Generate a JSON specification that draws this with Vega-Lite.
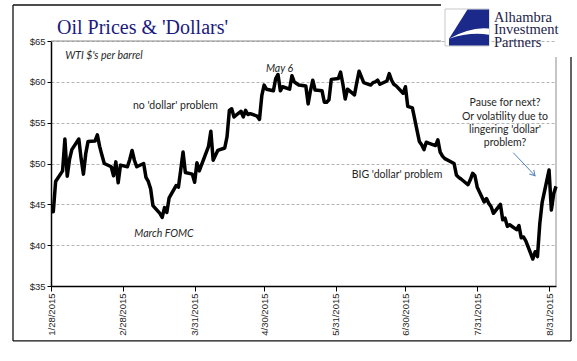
{
  "$schema": "https://vega.github.io/schema/vega-lite/v6.json",
  "width": 505,
  "height": 245,
  "autosize": {"type": "none"},
  "padding": {"left": 51, "top": 41, "right": 21, "bottom": 75},
  "background": "white",
  "config": {
    "view": {"stroke": null},
    "axis": {
      "labelFont": "Liberation Sans",
      "labelFontSize": 9.5,
      "labelColor": "#262626",
      "domainColor": "#000000",
      "domainWidth": 1.5,
      "tickColor": "#000000",
      "tickWidth": 1,
      "title": null
    }
  },
  "layer": [
    {
      "data": {"values": [{}]},
      "mark": {"type": "rule", "stroke": "#111111", "strokeWidth": 1.3, "clip": false},
      "encoding": {
        "x": {"datum": 1420985900000, "type": "temporal"},
        "x2": {"datum": 1436949200000},
        "y": {"datum": 69.41, "type": "quantitative"}
      }
    },
    {
      "data": {"values": [{}]},
      "mark": {"type": "rule", "stroke": "#111111", "strokeWidth": 1.3, "clip": false},
      "encoding": {
        "x": {"datum": 1420985900000, "type": "temporal"},
        "x2": {"datum": 1441797900000},
        "y": {"datum": 28.27, "type": "quantitative"}
      }
    },
    {
      "data": {"values": [{}]},
      "mark": {"type": "rule", "stroke": "#111111", "strokeWidth": 1.3, "clip": false},
      "encoding": {
        "x": {"datum": 1420985900000, "type": "temporal"},
        "y": {"datum": 28.27, "type": "quantitative"},
        "y2": {"datum": 69.41}
      }
    },
    {
      "data": {"values": [{}]},
      "mark": {"type": "rule", "stroke": "#111111", "strokeWidth": 1.3, "clip": false},
      "encoding": {
        "x": {"datum": 1441797900000, "type": "temporal"},
        "y": {"datum": 28.27, "type": "quantitative"},
        "y2": {"datum": 63.04}
      }
    },
    {
      "data": {"values": [{}]},
      "mark": {"type": "rule", "stroke": "#8c8c8c", "strokeWidth": 1},
      "encoding": {
        "x": {"datum": 1422403200000, "type": "temporal"},
        "x2": {"datum": 1436949200000},
        "y": {"datum": 65, "type": "quantitative"}
      }
    },
    {
      "data": {"values": [{}]},
      "mark": {"type": "rule", "stroke": "#8c8c8c", "strokeWidth": 1},
      "encoding": {
        "x": {"datum": 1441238400000, "type": "temporal"},
        "y": {"datum": 35, "type": "quantitative"},
        "y2": {"datum": 63.04}
      }
    },
    {
      "data": {
        "values": [
          {"date": "2015-01-28", "price": 44.1},
          {"date": "2015-01-29", "price": 44.1},
          {"date": "2015-01-30", "price": 47.8},
          {"date": "2015-02-02", "price": 49.1},
          {"date": "2015-02-03", "price": 53.0},
          {"date": "2015-02-04", "price": 48.45},
          {"date": "2015-02-05", "price": 50.5},
          {"date": "2015-02-06", "price": 51.7},
          {"date": "2015-02-09", "price": 53.0},
          {"date": "2015-02-10", "price": 50.6},
          {"date": "2015-02-11", "price": 48.7},
          {"date": "2015-02-12", "price": 51.2},
          {"date": "2015-02-13", "price": 52.7},
          {"date": "2015-02-16", "price": 52.75},
          {"date": "2015-02-17", "price": 53.5},
          {"date": "2015-02-18", "price": 52.1},
          {"date": "2015-02-19", "price": 51.0},
          {"date": "2015-02-20", "price": 50.0},
          {"date": "2015-02-23", "price": 49.6},
          {"date": "2015-02-24", "price": 48.5},
          {"date": "2015-02-25", "price": 50.2},
          {"date": "2015-02-26", "price": 47.65},
          {"date": "2015-02-27", "price": 49.8},
          {"date": "2015-03-02", "price": 49.6},
          {"date": "2015-03-03", "price": 50.5},
          {"date": "2015-03-04", "price": 51.6},
          {"date": "2015-03-05", "price": 50.4},
          {"date": "2015-03-06", "price": 49.6},
          {"date": "2015-03-09", "price": 50.0},
          {"date": "2015-03-10", "price": 48.3},
          {"date": "2015-03-11", "price": 47.8},
          {"date": "2015-03-12", "price": 46.9},
          {"date": "2015-03-13", "price": 44.85},
          {"date": "2015-03-16", "price": 43.9},
          {"date": "2015-03-17", "price": 43.4},
          {"date": "2015-03-18", "price": 44.6},
          {"date": "2015-03-19", "price": 44.0},
          {"date": "2015-03-20", "price": 45.8},
          {"date": "2015-03-23", "price": 47.3},
          {"date": "2015-03-24", "price": 47.1},
          {"date": "2015-03-25", "price": 49.2},
          {"date": "2015-03-26", "price": 51.4},
          {"date": "2015-03-27", "price": 48.9},
          {"date": "2015-03-30", "price": 48.7},
          {"date": "2015-03-31", "price": 47.7},
          {"date": "2015-04-01", "price": 50.1},
          {"date": "2015-04-02", "price": 49.1},
          {"date": "2015-04-06", "price": 52.1},
          {"date": "2015-04-07", "price": 53.95},
          {"date": "2015-04-08", "price": 50.4},
          {"date": "2015-04-09", "price": 51.0},
          {"date": "2015-04-10", "price": 51.6},
          {"date": "2015-04-13", "price": 51.9},
          {"date": "2015-04-14", "price": 53.3},
          {"date": "2015-04-15", "price": 56.5},
          {"date": "2015-04-16", "price": 56.7},
          {"date": "2015-04-17", "price": 55.7},
          {"date": "2015-04-20", "price": 56.4},
          {"date": "2015-04-21", "price": 55.7},
          {"date": "2015-04-22", "price": 56.5},
          {"date": "2015-04-23", "price": 56.0},
          {"date": "2015-04-24", "price": 56.1},
          {"date": "2015-04-27", "price": 55.8},
          {"date": "2015-04-28", "price": 55.4},
          {"date": "2015-04-29", "price": 58.3},
          {"date": "2015-04-30", "price": 59.6},
          {"date": "2015-05-01", "price": 59.1},
          {"date": "2015-05-04", "price": 58.9},
          {"date": "2015-05-05", "price": 60.4},
          {"date": "2015-05-06", "price": 60.9},
          {"date": "2015-05-07", "price": 58.9},
          {"date": "2015-05-08", "price": 59.4},
          {"date": "2015-05-11", "price": 59.1},
          {"date": "2015-05-12", "price": 60.75},
          {"date": "2015-05-13", "price": 60.0},
          {"date": "2015-05-14", "price": 59.8},
          {"date": "2015-05-15", "price": 59.6},
          {"date": "2015-05-18", "price": 59.5},
          {"date": "2015-05-19", "price": 57.3},
          {"date": "2015-05-20", "price": 58.9},
          {"date": "2015-05-21", "price": 60.2},
          {"date": "2015-05-22", "price": 59.0},
          {"date": "2015-05-25", "price": 58.9},
          {"date": "2015-05-26", "price": 57.5},
          {"date": "2015-05-27", "price": 57.5},
          {"date": "2015-05-28", "price": 57.8},
          {"date": "2015-05-29", "price": 60.3},
          {"date": "2015-06-01", "price": 60.4},
          {"date": "2015-06-02", "price": 61.2},
          {"date": "2015-06-03", "price": 59.7},
          {"date": "2015-06-04", "price": 57.9},
          {"date": "2015-06-05", "price": 59.1},
          {"date": "2015-06-08", "price": 58.4},
          {"date": "2015-06-09", "price": 59.9},
          {"date": "2015-06-10", "price": 61.3},
          {"date": "2015-06-11", "price": 60.6},
          {"date": "2015-06-12", "price": 59.9},
          {"date": "2015-06-15", "price": 59.6},
          {"date": "2015-06-16", "price": 59.9},
          {"date": "2015-06-17", "price": 60.0},
          {"date": "2015-06-18", "price": 60.2},
          {"date": "2015-06-19", "price": 59.7},
          {"date": "2015-06-22", "price": 60.1},
          {"date": "2015-06-23", "price": 61.0},
          {"date": "2015-06-24", "price": 60.2},
          {"date": "2015-06-25", "price": 59.7},
          {"date": "2015-06-26", "price": 59.5},
          {"date": "2015-06-29", "price": 58.6},
          {"date": "2015-06-30", "price": 59.4},
          {"date": "2015-07-01", "price": 57.0},
          {"date": "2015-07-02", "price": 56.9},
          {"date": "2015-07-03", "price": 56.8},
          {"date": "2015-07-06", "price": 52.7},
          {"date": "2015-07-07", "price": 52.3},
          {"date": "2015-07-08", "price": 51.7},
          {"date": "2015-07-09", "price": 52.6},
          {"date": "2015-07-10", "price": 52.5},
          {"date": "2015-07-13", "price": 52.2},
          {"date": "2015-07-14", "price": 52.9},
          {"date": "2015-07-15", "price": 51.4},
          {"date": "2015-07-16", "price": 50.9},
          {"date": "2015-07-17", "price": 50.6},
          {"date": "2015-07-20", "price": 50.15},
          {"date": "2015-07-21", "price": 50.0},
          {"date": "2015-07-22", "price": 48.6},
          {"date": "2015-07-23", "price": 48.3},
          {"date": "2015-07-24", "price": 48.1},
          {"date": "2015-07-27", "price": 47.4},
          {"date": "2015-07-28", "price": 48.0},
          {"date": "2015-07-29", "price": 48.8},
          {"date": "2015-07-30", "price": 48.5},
          {"date": "2015-07-31", "price": 47.1},
          {"date": "2015-08-03", "price": 45.3},
          {"date": "2015-08-04", "price": 45.7},
          {"date": "2015-08-05", "price": 45.1},
          {"date": "2015-08-06", "price": 44.7},
          {"date": "2015-08-07", "price": 43.9},
          {"date": "2015-08-10", "price": 45.0},
          {"date": "2015-08-11", "price": 43.1},
          {"date": "2015-08-12", "price": 43.3},
          {"date": "2015-08-13", "price": 42.3},
          {"date": "2015-08-14", "price": 42.5},
          {"date": "2015-08-17", "price": 41.9},
          {"date": "2015-08-18", "price": 42.4},
          {"date": "2015-08-19", "price": 40.9},
          {"date": "2015-08-20", "price": 41.0},
          {"date": "2015-08-21", "price": 40.5},
          {"date": "2015-08-24", "price": 38.3},
          {"date": "2015-08-25", "price": 39.2},
          {"date": "2015-08-26", "price": 38.6},
          {"date": "2015-08-27", "price": 42.6},
          {"date": "2015-08-28", "price": 45.2},
          {"date": "2015-08-31", "price": 49.2},
          {"date": "2015-09-01", "price": 44.3},
          {"date": "2015-09-02", "price": 46.3},
          {"date": "2015-09-03", "price": 47.2}
        ]
      },
      "mark": {"type": "line", "color": "#000000", "strokeWidth": 3.5, "strokeJoin": "round"},
      "encoding": {
        "x": {
          "field": "date",
          "type": "temporal",
          "scale": {
            "type": "utc",
            "nice": false,
            "domain": [1422403200000, 1441238400000]
          },
          "axis": {
            "title": null,
            "values": [1422403200000, 1425081600000, 1427760000000, 1430352000000, 1433030400000, 1435622400000, 1438300800000, 1440979200000],
            "labelExpr": "utcFormat(datum.value, '%-m/%-d/%Y')",
            "labelAngle": -90,
            "labelPadding": 2,
            "tickSize": 5,
            "labelFlush": false,
            "labelOverlap": false,
            "labelBound": false,
            "grid": false
          }
        },
        "y": {
          "field": "price",
          "type": "quantitative",
          "scale": {"domain": [35, 65], "nice": false, "zero": false},
          "axis": {
            "title": null,
            "values": [35, 40, 45, 50, 55, 60, 65],
            "labelExpr": "'$' + datum.value",
            "tickSize": 4,
            "labelPadding": 2,
            "grid": true,
            "gridColor": "#b4b4b4",
            "gridDash": [3, 2],
            "gridWidth": 1
          }
        }
      }
    },
    {
      "data": {
        "values": [
          {"date": "2015-02-19T21:07:00Z", "price": 63.16, "note": "WTI $'s per barrel"},
          {"date": "2015-03-17T18:43:00Z", "price": 41.33, "note": "March FOMC"},
          {"date": "2015-05-06T15:22:00Z", "price": 61.63, "note": "May 6"}
        ]
      },
      "mark": {"type": "text", "font": "Lato", "fontStyle": "italic", "fontSize": 10.5, "color": "#262626", "align": "center", "baseline": "middle"},
      "encoding": {
        "x": {"field": "date", "type": "temporal"},
        "y": {"field": "price", "type": "quantitative"},
        "text": {"field": "note", "type": "nominal"}
      }
    },
    {
      "data": {
        "values": [
          {"date": "2015-03-22T17:46:00Z", "price": 57.08, "note": "no 'dollar' problem"},
          {"date": "2015-06-26T08:38:00Z", "price": 48.59, "note": "BIG 'dollar' problem"},
          {"date": "2015-08-11T23:33:00Z", "price": 57.37, "note": "Pause for next?\nOr volatility due to\nlingering 'dollar'\nproblem?"}
        ]
      },
      "mark": {"type": "text", "font": "Lato", "fontSize": 10.5, "color": "#262626", "align": "center", "baseline": "middle", "lineBreak": "\n", "lineHeight": 13.3},
      "encoding": {
        "x": {"field": "date", "type": "temporal"},
        "y": {"field": "price", "type": "quantitative"},
        "text": {"field": "note", "type": "nominal"}
      }
    },
    {
      "data": {"values": [{}]},
      "mark": {"type": "rule", "stroke": "#4f81bd", "strokeWidth": 1},
      "encoding": {
        "x": {"datum": 1439645800000, "type": "temporal"},
        "x2": {"datum": 1440455200000},
        "y": {"datum": 51.32, "type": "quantitative"},
        "y2": {"datum": 48.51}
      }
    },
    {
      "data": {"values": [{}]},
      "mark": {"type": "point", "shape": "M -1 -0.6 L 0 0 L -1 0.6", "filled": false, "stroke": "#4f81bd", "strokeWidth": 1, "size": 100, "angle": 47, "opacity": 1},
      "encoding": {
        "x": {"datum": 1440455200000, "type": "temporal"},
        "y": {"datum": 48.51, "type": "quantitative"}
      }
    },
    {
      "data": {"values": [{}]},
      "mark": {"type": "text", "text": "Oil Prices & 'Dollars'", "font": "Liberation Serif", "fontSize": 20, "color": "#1a1a80", "align": "left", "baseline": "alphabetic"},
      "encoding": {
        "x": {"datum": 1422627000000, "type": "temporal"},
        "y": {"datum": 65.86, "type": "quantitative"}
      }
    },
    {
      "data": {"values": [{}]},
      "mark": {"type": "rect", "fill": "white", "stroke": "#c8c8c8", "strokeWidth": 1},
      "encoding": {
        "x": {"datum": 1437098400000, "type": "temporal"},
        "x2": {"datum": 1438739500000},
        "y": {"datum": 68.92, "type": "quantitative"},
        "y2": {"datum": 64.39}
      }
    },
    {
      "data": {"values": [{}]},
      "mark": {"type": "point", "shape": "M -0.05 -0.88 L 1 -0.88 L 1 0.88 L -0.95 0.88 L -0.95 0.55 Z", "filled": true, "fill": "#1b2a8a", "stroke": null, "size": 1681, "opacity": 1},
      "encoding": {
        "x": {"datum": 1437974900000, "type": "temporal"},
        "y": {"datum": 66.65, "type": "quantitative"}
      }
    },
    {
      "data": {"values": [{}]},
      "mark": {"type": "point", "shape": "M -0.95 0.55 Q 0.1 -0.05 1 0.05 L 1 0.35 Q 0.05 0.2 -0.95 0.55 Z", "filled": true, "fill": "white", "stroke": null, "size": 1681, "opacity": 1},
      "encoding": {
        "x": {"datum": 1437974900000, "type": "temporal"},
        "y": {"datum": 66.65, "type": "quantitative"}
      }
    },
    {
      "data": {"values": [{}]},
      "mark": {"type": "text", "text": ["Alhambra", "Investment", "Partners"], "font": "Liberation Serif", "fontSize": 14.5, "lineHeight": 12.3, "color": "#23234a", "align": "left", "baseline": "top"},
      "encoding": {
        "x": {"datum": 1438926000000, "type": "temporal"},
        "y": {"datum": 68.67, "type": "quantitative"}
      }
    }
  ]
}
